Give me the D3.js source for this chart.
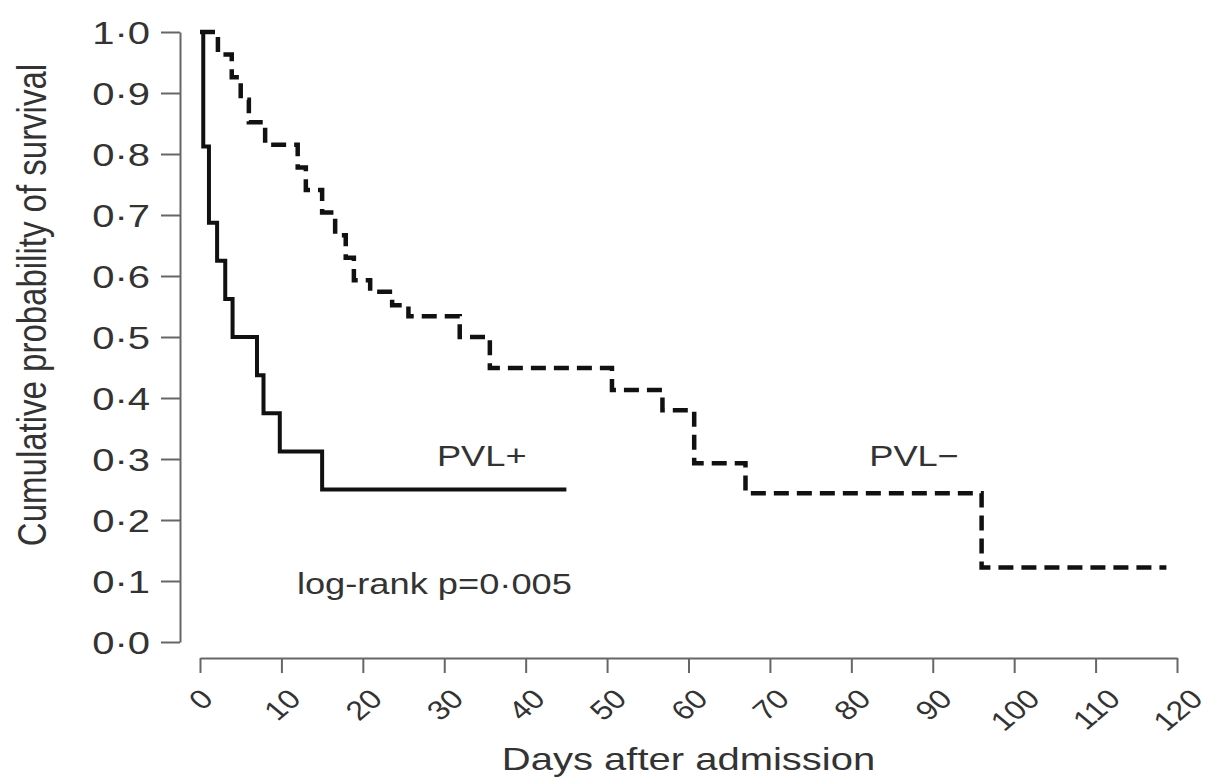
<!DOCTYPE html>
<html>
<head>
<meta charset="utf-8">
<script src="https://cdn.jsdelivr.net/npm/d3@7/dist/d3.min.js"></script>
<style>
  html, body { margin: 0; padding: 0; background: #fff; }
  svg { display: block; font-family: "Liberation Sans", Arial, Helvetica, sans-serif; }
</style>
</head>
<body>
<div id="chart"></div>
<script>
// PVL+ patients (solid line)
const pvlPosDays = [0, 0.4, 1.1, 2.1, 3.1, 4, 7, 7.8, 9.8, 15, 45];
const pvlPosSurvival = [1, 0.8125, 0.6875, 0.625, 0.5625, 0.5, 0.4375, 0.375, 0.3125, 0.25, 0.25];

// PVL- patients (dashed line)
const pvlNegDays = [0, 2.2, 3.9, 5, 6, 8, 12, 13, 15, 16.6, 17.9, 18.9, 20.9, 23.6, 25.6, 31.9, 35.6, 50.6, 56.8, 60.7, 67, 96, 118.7];
const pvlNegSurvival = [1, 0.963, 0.926, 0.889, 0.852, 0.815, 0.778, 0.741, 0.704, 0.667, 0.63, 0.593, 0.574, 0.552, 0.534, 0.5, 0.449, 0.413, 0.38, 0.293, 0.244, 0.122, 0.122];

const xTicks = [0, 10, 20, 30, 40, 50, 60, 70, 80, 90, 100, 110, 120];
const yTicks = [0, 0.1, 0.2, 0.3, 0.4, 0.5, 0.6, 0.7, 0.8, 0.9, 1.0];

const xTitle = "Days after admission";
const yTitle = "Cumulative probability of survival";
const seriesNames = ["PVL+", "PVL\u2212"];
const testLabel = "log-rank p=0\u00b7005";

class SurvivalPlot {
  constructor({ el }) {
    this.el = el;
    this.initVis();
  }

  initVis() {
    const vis = this;
    vis.width = 1210;
    vis.height = 779;
    vis.stretch = 1.25; // the scanned figure is wider than tall
    vis.yAxisX = 180;
    vis.xAxisY = 658;
    vis.ink = "#333";
    vis.axisColor = "#666";

    vis.svg = d3
      .select(vis.el)
      .append("svg")
      .attr("width", vis.width)
      .attr("height", vis.height)
      .attr("viewBox", [0, 0, vis.width, vis.height]);

    vis.svg
      .append("rect")
      .attr("width", vis.width)
      .attr("height", vis.height)
      .attr("fill", "#fff");

    // Scales
    vis.x = d3.scaleLinear().domain(d3.extent(xTicks)).range([200, 1177]);
    vis.y = d3.scaleLinear().domain(d3.extent(yTicks)).range([642, 32]);

    vis.series = [
      { key: seriesNames[1], days: pvlNegDays, surv: pvlNegSurvival, dash: "15 8", width: 4.5 },
      { key: seriesNames[0], days: pvlPosDays, surv: pvlPosSurvival, dash: null, width: 4 },
    ];

    vis.gx = vis.svg.append("g").attr("class", "axis axis--x");
    vis.gy = vis.svg.append("g").attr("class", "axis axis--y");
    vis.g = vis.svg.append("g").attr("class", "curves");
    vis.gLabels = vis.svg.append("g").attr("class", "labels");

    vis.updateVis();
  }

  updateVis() {
    const vis = this;
    const fmt = (d) => d.toFixed(1).replace(".", "\u00b7");

    // Y axis
    vis.gy
      .attr("transform", `translate(${vis.yAxisX},0)`)
      .call(
        d3
          .axisLeft(vis.y)
          .tickValues(yTicks)
          .tickSize(19)
          .tickSizeOuter(0)
          .tickFormat(fmt)
      )
      .attr("font-size", 32)
      .attr("font-family", null)
      .call((g) => g.selectAll(".domain, .tick line").attr("stroke", vis.axisColor).attr("stroke-width", 2))
      .call((g) =>
        g
          .selectAll(".tick text")
          .attr("x", 0)
          .attr("dy", "0.36em")
          .attr("fill", vis.ink)
          .attr("transform", `translate(-30,0) scale(${vis.stretch},1)`)
      );

    // X axis, labels turned 45 degrees
    const tickFont = 27;
    vis.gx
      .attr("transform", `translate(0,${vis.xAxisY})`)
      .call(
        d3
          .axisBottom(vis.x)
          .tickValues(xTicks)
          .tickSize(15)
          .tickSizeOuter(0)
          .tickFormat((d) => d)
      )
      .attr("font-size", tickFont)
      .attr("font-family", null)
      .call((g) => g.selectAll(".domain, .tick line").attr("stroke", vis.axisColor).attr("stroke-width", 2))
      .call((g) =>
        g
          .selectAll(".tick text")
          .attr("y", 0)
          .attr("dy", "0.36em")
          .attr("fill", vis.ink)
          .attr("text-anchor", "middle")
          .attr("transform", function () {
            const w = this.getComputedTextLength();
            const h = 0.716 * tickFont;
            const half = ((w + h) * Math.SQRT1_2) / 2;
            return `translate(0,${29 + half}) scale(1.18,1) rotate(-45)`;
          })
      );

    // Curves
    const line = d3
      .line()
      .x((d) => vis.x(d[0]))
      .y((d) => vis.y(d[1]))
      .curve(d3.curveStepAfter);

    vis.g
      .selectAll(".curve")
      .data(vis.series, (d) => d.key)
      .join("path")
      .attr("class", "curve")
      .attr("fill", "none")
      .attr("stroke", "#111")
      .attr("stroke-width", (d) => d.width)
      .attr("stroke-dasharray", (d) => d.dash)
      .attr("d", (d) => line(d.days.map((t, i) => [t, d.surv[i]])));

    // Titles and annotations
    const texts = [
      { text: yTitle, size: 33, anchor: "middle", tf: `translate(46,305) scale(${vis.stretch},1) rotate(-90)` },
      { text: xTitle, size: 32, anchor: "middle", tf: `translate(${(vis.x.range()[0] + vis.x.range()[1]) / 2},770) scale(${vis.stretch},1)` },
      { text: seriesNames[0], size: 29, anchor: "start", tf: `translate(${vis.x(29.1)},${vis.y(0.288)}) scale(${vis.stretch},1)` },
      { text: seriesNames[1], size: 29, anchor: "start", tf: `translate(${vis.x(82.2)},${vis.y(0.288)}) scale(${vis.stretch},1)` },
      { text: testLabel, size: 29, anchor: "start", tf: `translate(${vis.x(11.9)},${vis.y(0.079)}) scale(${vis.stretch},1)` },
    ];

    vis.gLabels
      .selectAll("text")
      .data(texts)
      .join("text")
      .attr("fill", vis.ink)
      .attr("font-size", (d) => d.size)
      .attr("text-anchor", (d) => d.anchor)
      .attr("transform", (d) => d.tf)
      .text((d) => d.text);
  }
}

new SurvivalPlot({ el: document.getElementById("chart") });
</script>
</body>
</html>
